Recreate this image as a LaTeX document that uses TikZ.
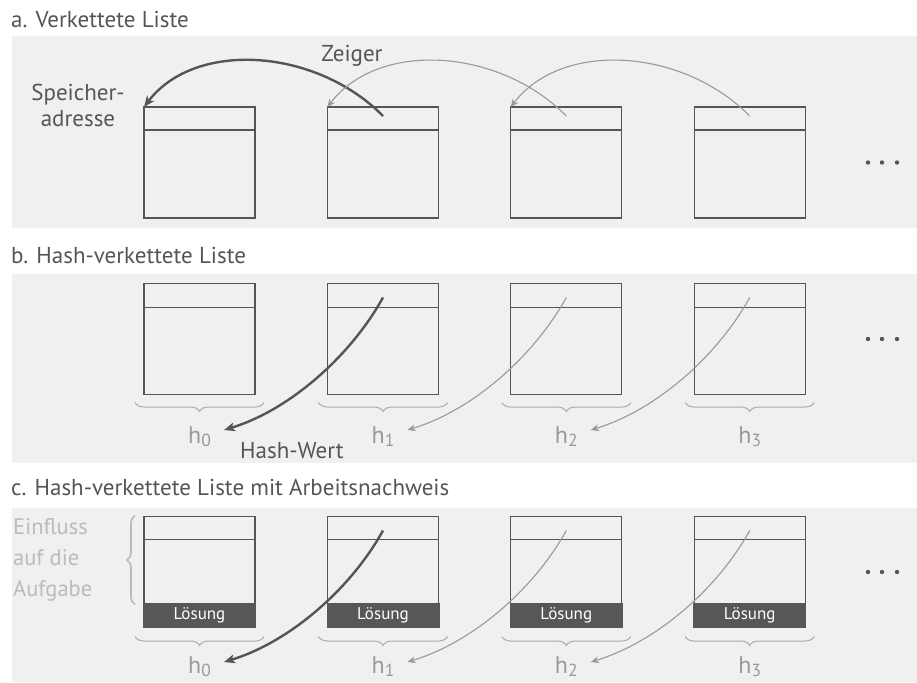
\documentclass[tikz,border=0pt]{standalone}
\usepackage{fontspec}
\setmainfont{PT Sans}
\usetikzlibrary{arrows.meta,decorations.pathreplacing,calc}

\definecolor{panelbg}{HTML}{F0F0F0}
\definecolor{ink}{HTML}{555555}
\definecolor{lightink}{HTML}{999999}
\definecolor{paleink}{HTML}{BBBBBB}
\definecolor{bracegray}{HTML}{AAAAAA}
\definecolor{bandfill}{HTML}{575757}

\tikzset{
  cell/.style={draw=ink, line width=1.3pt, minimum width=111pt, minimum height=111pt,
               inner sep=0pt, outer sep=0pt},
  divider/.style={draw=ink, line width=1.3pt},
  band/.style={fill=bandfill, minimum width=113pt, minimum height=24.5pt, inner sep=0pt,
               text=white, font=\fontsize{17}{17}\selectfont},
  title/.style={anchor=base west, inner sep=0pt, text=ink, font=\fontsize{23}{23}\selectfont},
  caption/.style={inner sep=0pt, text=ink, font=\fontsize{23}{26}\selectfont},
  hlabel/.style={anchor=base, inner sep=0pt, text=lightink, font=\fontsize{24}{24}\selectfont},
  ptrdark/.style={draw=ink, line width=2.4pt, -{Stealth[length=11pt, width=9pt, inset=3pt]}},
  ptrlight/.style={draw=lightink, line width=1.1pt, -{Stealth[length=8pt, width=7pt, inset=2.5pt]}},
  hbrace/.style={draw=bracegray, line width=1pt, decorate, decoration={brace, amplitude=9pt}},
  vbrace/.style={draw=paleink, line width=1.6pt, decorate, decoration={brace, amplitude=8pt}},
}
\newcommand{\hsub}[1]{h\raisebox{-3.5pt}{\fontsize{17.5}{17.5}\selectfont #1}}

\begin{document}
\begin{tikzpicture}[x=1pt, y=-1pt]
\useasboundingbox (0,0) rectangle (917,682);

% panel backgrounds
\fill[panelbg] (12,36) rectangle (917,228);
\fill[panelbg] (12,274) rectangle (917,463);
\fill[panelbg] (12,508) rectangle (917,682);

% titles
\node[title] (ta) at (11,28) {a. Verkettete Liste};
\node[title] (tb) at (11,263) {b. Hash-verkettete Liste};
\node[title] (tc) at (11,495) {c. Hash-verkettete Liste mit Arbeitsnachweis};

% memory cells
\foreach \i/\x in {1/199.5, 2/383, 3/566.3, 4/749.7} {
  % a: plain linked list
  \node[cell] (a\i) at (\x,162.5) {};
  \draw[divider] ($(a\i.north west)+(0,23)$) -- ($(a\i.north east)+(0,23)$);
  % b: hash linked list
  \node[cell] (b\i) at (\x,339) {};
  \draw[divider] ($(b\i.north west)+(0,24)$) -- ($(b\i.north east)+(0,24)$);
  \draw[hbrace] ($(b\i.south east)+(9,8)$) -- ($(b\i.south west)+(-9,8)$);
  % c: hash linked list with proof of work
  \node[cell] (c\i) at (\x,572) {};
  \draw[divider] ($(c\i.north west)+(0,23)$) -- ($(c\i.north east)+(0,23)$);
  \node[band] (s\i) at ($(c\i.south)+(0,-12)$) {Lösung};
  \draw[hbrace] ($(c\i.south east)+(9,9)$) -- ($(c\i.south west)+(-9,9)$);
}

% hash labels
\foreach \i/\x in {0/199.5, 1/383, 2/566.3, 3/749.7} {
  \node[hlabel] (hb\i) at (\x,443) {\hsub{\i}};
  \node[hlabel] (hc\i) at (\x,673) {\hsub{\i}};
}

% continuation dots
\foreach \y in {162.5, 339, 572}
  \foreach \x in {868, 882, 897}
    \fill[ink] (\x,\y) circle (2.2);

% a: pointers to memory addresses
\draw[ptrdark] ($(a2.north)+(0,9)$) .. controls +(-67,-68) and +(51,-67) .. (a1.north west);
\draw[ptrlight] ($(a3.north)+(0,9)$) .. controls +(-67,-68) and +(51,-67) .. (a2.north west);
\draw[ptrlight] ($(a4.north)+(0,9)$) .. controls +(-67,-68) and +(51,-67) .. (a3.north west);

% b: pointers to hash values
\draw[ptrdark] ($(b2.north)+(0,14)$) .. controls +(-32,58) and +(66,-20) .. ($(hb0.base)+(24.5,-13)$);
\draw[ptrlight] ($(b3.north)+(0,14)$) .. controls +(-32,58) and +(66,-20) .. ($(hb1.base)+(24.5,-13)$);
\draw[ptrlight] ($(b4.north)+(0,14)$) .. controls +(-32,58) and +(66,-20) .. ($(hb2.base)+(24.5,-13)$);

% c: pointers to hash values
\draw[ptrdark] ($(c2.north)+(0,14)$) .. controls +(-32,58) and +(66,-20) .. ($(hc0.base)+(24.5,-11)$);
\draw[ptrlight] ($(c3.north)+(0,14)$) .. controls +(-32,58) and +(66,-20) .. ($(hc1.base)+(24.5,-11)$);
\draw[ptrlight] ($(c4.north)+(0,14)$) .. controls +(-32,58) and +(66,-20) .. ($(hc2.base)+(24.5,-11)$);

% captions
\node[caption, anchor=base] (zeiger) at (352,62) {Zeiger};
\node[caption, align=center, anchor=north] (addr) at (78,84) {Speicher-\\adresse};
\node[caption, anchor=base west] (hashwert) at (240,458) {Hash-Wert};

% input to the puzzle
\draw[vbrace] ($(c1.south west)+(-9,-23)$) -- ($(c1.north west)+(-9,-1)$);
\node[anchor=north west, align=left, inner sep=0pt, text=paleink,
      font=\fontsize{22.5}{31}\selectfont] (input) at (13,518) {Einfluss\\auf die\\Aufgabe};
\end{tikzpicture}
\end{document}
